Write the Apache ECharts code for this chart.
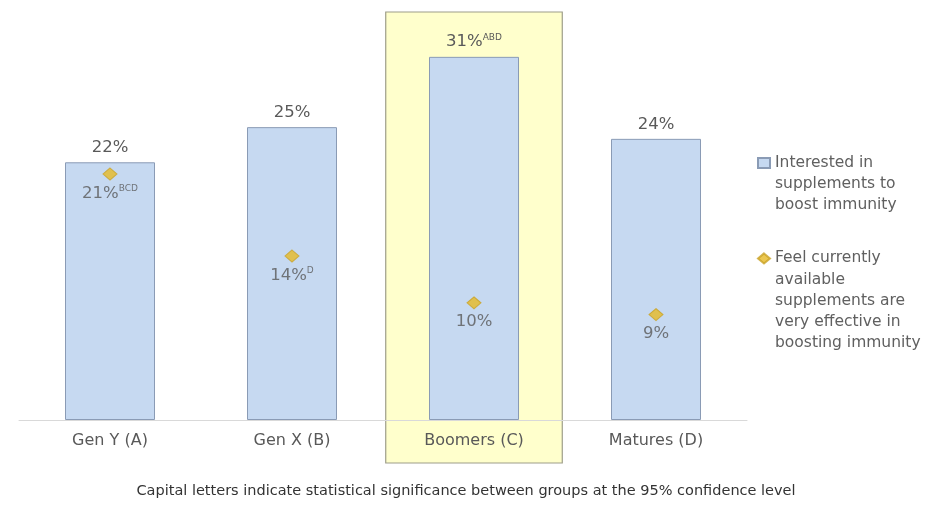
<!DOCTYPE html>
<html>
<head>
<meta charset="utf-8">
<script src="https://cdn.jsdelivr.net/npm/echarts@6/dist/echarts.min.js"></script>
<style>
  html, body { margin: 0; padding: 0; background: #fff; }
  #chart { width: 932px; height: 505px; }
</style>
</head>
<body>
<div id="chart"></div>
<script>
var categories = ['Gen Y (A)', 'Gen X (B)', 'Boomers (C)', 'Matures (D)'];
var interested = [22, 25, 31, 24];
var interestedSig = ['', '', 'ABD', ''];
var effective = [21, 14, 10, 9];
var effectiveSig = ['BCD', 'D', '', ''];
var highlightCat = 'Boomers (C)';

var nameInterested = 'Interested in\nsupplements to\nboost immunity';
var nameEffective = 'Feel currently\navailable\nsupplements are\nvery effective in\nboosting immunity';

var font = 'DejaVu Sans';
var textGrey = '#595959';

var richLabel = {
    v: { fontSize: 16.5, color: textGrey, fontFamily: font },
    s: { fontSize: 9, color: textGrey, fontFamily: font, padding: [0, 0, 9, 0] }
};

function sigLabel(sig) {
    return function (p) {
        var s = sig[p.dataIndex];
        return '{v|' + p.value + '%}' + (s ? '{s|' + s + '}' : '');
    };
}

// echarts centres legend text on the icon; pad with blank lines so the
// icon sits on the first line like in the original
function topAligned(name) {
    var n = name.split('\n').length - 1;
    var pad = '';
    for (var i = 0; i < n; i++) pad += '\n';
    return pad + name;
}

var legendText = { fontSize: 15.5, color: '#606060', lineHeight: 21.2, fontFamily: font };

var chart = echarts.init(document.getElementById('chart'));

var option = {
    animation: false,
    textStyle: { fontFamily: font },
    title: {
        text: 'Capital letters indicate statistical significance between groups at the 95% confidence level',
        left: 'center',
        top: 479,
        textStyle: { fontSize: 14.5, fontWeight: 'normal', color: '#333', fontFamily: font }
    },
    grid: { left: 19, right: 185, top: 10, bottom: 85 },
    legend: [
        {
            orient: 'vertical',
            left: 752,
            top: 158 - 53,
            itemWidth: 12,
            itemHeight: 10,
            formatter: topAligned,
            textStyle: legendText,
            data: [{ name: nameInterested, icon: 'rect' }]
        },
        {
            orient: 'vertical',
            left: 752,
            top: 253 - 95,
            itemWidth: 12,
            itemHeight: 10,
            formatter: topAligned,
            textStyle: legendText,
            data: [{ name: nameEffective, icon: 'diamond' }]
        }
    ],
    xAxis: {
        type: 'category',
        data: categories,
        axisLine: { lineStyle: { color: '#d9d9d9', width: 1 } },
        axisTick: { show: false },
        axisLabel: { fontSize: 16, color: textGrey, margin: 13, fontFamily: font }
    },
    yAxis: {
        type: 'value',
        min: 0,
        max: 35,
        show: false,
        splitLine: { show: false }
    },
    series: [
        {
            name: nameInterested,
            type: 'bar',
            data: interested,
            barWidth: 90,
            itemStyle: { color: '#C6D9F1', borderColor: '#8A9BB5', borderWidth: 1 },
            label: {
                show: true,
                position: 'top',
                distance: 6,
                formatter: sigLabel(interestedSig),
                rich: richLabel
            },
            z: 2
        },
        {
            name: nameEffective,
            type: 'scatter',
            data: effective,
            symbol: 'diamond',
            symbolSize: [14, 12],
            itemStyle: { color: '#E6B925', borderColor: '#C9A227', borderWidth: 1 },
            label: {
                show: true,
                position: 'bottom',
                distance: 4,
                formatter: sigLabel(effectiveSig),
                rich: richLabel
            },
            z: 3
        }
    ]
};

chart.setOption(option);

// highlight box behind the Boomers column
var idx = categories.indexOf(highlightCat);
var cx = chart.convertToPixel({ xAxisIndex: 0 }, categories[idx]);
var band = chart.convertToPixel({ xAxisIndex: 0 }, categories[1]) - chart.convertToPixel({ xAxisIndex: 0 }, categories[0]);
var w = band * 0.97;
chart.setOption({
    graphic: [{
        type: 'rect',
        z: -10,
        shape: { x: cx - w / 2, y: 12, width: w, height: 451 },
        style: { fill: '#FFFFCC', stroke: '#9E9E8A', lineWidth: 1.2 }
    }]
});
</script>
</body>
</html>
